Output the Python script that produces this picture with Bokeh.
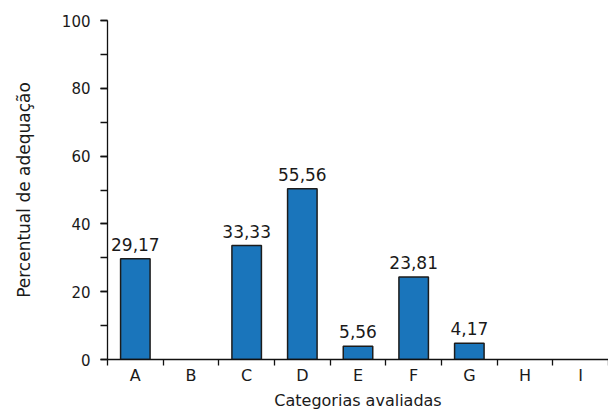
from bokeh.plotting import figure
from bokeh.models import Range1d, FixedTicker, SingleIntervalTicker, ColumnDataSource
from bokeh.core.properties import value
from bokeh.transform import dodge
from bokeh.embed import file_html
from bokeh.resources import INLINE

categories = ["A", "B", "C", "D", "E", "F", "G", "H", "I"]
heights = [29.7, 0, 33.6, 50.4, 3.9, 24.3, 4.8, 0, 0]
bar_labels = ["29,17", "", "33,33", "55,56", "5,56", "23,81", "4,17", "", ""]

FONT = "DejaVu Sans"
positions = list(range(1, len(categories) + 1))

keep = [i for i, h in enumerate(heights) if h > 0]
src = ColumnDataSource(dict(x=[positions[i] for i in keep],
                            top=[heights[i] for i in keep],
                            lab=[bar_labels[i] for i in keep]))

p = figure(width=608, height=412, output_backend="svg", toolbar_location=None,
           x_range=Range1d(0.5, len(categories) + 0.5), y_range=Range1d(0, 100),
           min_border_left=107, min_border_right=0, min_border_top=20, min_border_bottom=53)
p.outline_line_color = None
p.grid.visible = False
p.background_fill_color = "white"
p.border_fill_color = "white"

p.vbar(x="x", top="top", width=0.53, bottom=0, source=src,
       fill_color="#1a75bb", line_color="#1c1c1c", line_width=1.5)
p.text(x="x", y=dodge("top", 4.3, range=p.y_range), text="lab", source=src,
       text_align="center", text_baseline="alphabetic", text_font=value(FONT),
       text_font_size="17px", text_color="#1a1a1a")

# x axis
xa = p.xaxis[0]
xa.ticker = FixedTicker(ticks=positions,
                        minor_ticks=[i + 0.5 for i in range(0, len(categories) + 1)])
xa.major_label_overrides = {pos: c for pos, c in zip(positions, categories)}
xa.major_tick_out = 0
xa.major_tick_in = 0
xa.minor_tick_out = 6
xa.minor_tick_in = 0
xa.major_label_standoff = 0
xa.axis_label = "Categorias avaliadas"
xa.axis_label_standoff = 3
xa.axis_label_text_font_style = "normal"
xa.major_label_text_font_size = "16px"
xa.axis_label_text_font_size = "16px"

# y axis
ya = p.yaxis[0]
ya.ticker = SingleIntervalTicker(interval=20, num_minor_ticks=2)
ya.major_tick_out = 7
ya.major_tick_in = 0
ya.minor_tick_out = 7
ya.minor_tick_in = 0
ya.major_label_standoff = 10
ya.axis_label = "Percentual de adequação"
ya.axis_label_standoff = 25
ya.axis_label_text_font_style = "normal"
ya.major_label_text_font_size = "15px"
ya.axis_label_text_font_size = "17px"

for ax in (xa, ya):
    ax.axis_line_color = "#111111"
    ax.axis_line_width = 1.3
    ax.major_tick_line_color = "#111111"
    ax.minor_tick_line_color = "#111111"
    ax.major_tick_line_width = 1.3
    ax.minor_tick_line_width = 1.3
    ax.major_label_text_font = FONT
    ax.major_label_text_color = "#1a1a1a"
    ax.axis_label_text_font = FONT
    ax.axis_label_text_color = "#1a1a1a"

open("out.html", "w").write(file_html(p, INLINE))
